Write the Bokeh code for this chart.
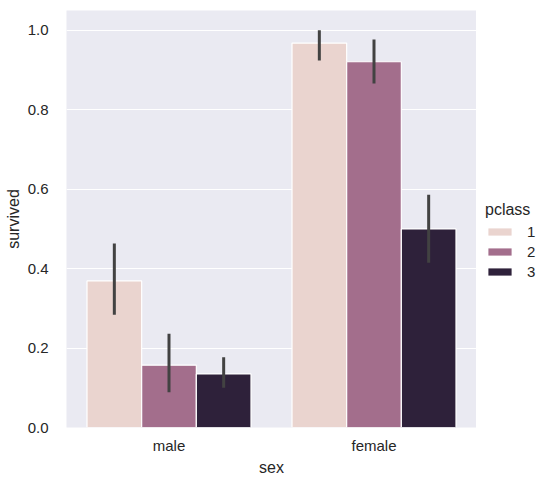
from bokeh.plotting import figure
from bokeh.layouts import row
from bokeh.models import ColumnDataSource, Legend, LegendItem, FixedTicker, Range1d, FactorRange, CustomJSTickFormatter
from bokeh.transform import dodge
from bokeh.embed import file_html
from bokeh.resources import INLINE

sexes = ["male", "female"]
pclasses = ["1", "2", "3"]
survived = {
    "1": [0.369, 0.968],
    "2": [0.157, 0.921],
    "3": [0.135, 0.500],
}
ci_low = {
    "1": [0.284, 0.924],
    "2": [0.089, 0.866],
    "3": [0.100, 0.415],
}
ci_high = {
    "1": [0.463, 1.000],
    "2": [0.236, 0.977],
    "3": [0.177, 0.586],
}
colors = {"1": "#ead4cf", "2": "#a36e8c", "3": "#2e213a"}
y_ticks = [0.0, 0.2, 0.4, 0.6, 0.8, 1.0]

FONT = "Liberation Sans"

p = figure(width=476, height=484, x_range=FactorRange(*sexes, range_padding=0.0),
           y_range=Range1d(0, 1.05), output_backend="svg", toolbar_location=None,
           min_border_left=66, min_border_right=0, min_border_top=10, min_border_bottom=57)
p.background_fill_color = "#eaeaf2"
p.border_fill_color = "white"
p.outline_line_color = None
p.xgrid.grid_line_color = None
p.ygrid.grid_line_color = "white"
p.ygrid.grid_line_width = 1.2
p.yaxis.ticker = FixedTicker(ticks=y_ticks)
p.yaxis.formatter = CustomJSTickFormatter(code="return tick.toFixed(1);")
for ax in (p.xaxis[0], p.yaxis[0]):
    ax.axis_line_color = None
    ax.major_tick_line_color = None
    ax.minor_tick_line_color = None
    ax.major_label_text_font = FONT
    ax.major_label_text_font_size = "15px"
    ax.major_label_text_color = "#262626"
    ax.axis_label_text_font = FONT
    ax.axis_label_text_font_size = "16px"
    ax.axis_label_text_font_style = "normal"
    ax.axis_label_text_color = "#262626"
p.xaxis.axis_label = "sex"
p.yaxis.axis_label = "survived"
p.xaxis.major_label_standoff = 3
p.yaxis.major_label_standoff = 12
p.xaxis.axis_label_standoff = 2
p.yaxis.axis_label_standoff = 3

bw = 0.8 / 3
for i, pc in enumerate(pclasses):
    off = (i - 1) * bw
    src = ColumnDataSource(dict(x=sexes, top=survived[pc], lo=ci_low[pc], hi=ci_high[pc]))
    p.vbar(x=dodge("x", off, range=p.x_range), top="top", bottom=0, width=bw, source=src,
           fill_color=colors[pc], line_color="white", line_width=1.2)
    p.segment(x0=dodge("x", off, range=p.x_range), x1=dodge("x", off, range=p.x_range),
              y0="lo", y1="hi", source=src, line_color="#424242", line_width=3)

# legend panel (its swatch renderers sit outside the visible range)
lf = figure(width=72, height=484, x_range=Range1d(0, 1), y_range=Range1d(0, 1),
            x_axis_type=None, y_axis_type=None, output_backend="svg", toolbar_location=None,
            min_border_left=0, min_border_right=0, min_border_top=0, min_border_bottom=0)
lf.outline_line_color = None
lf.xgrid.visible = False
lf.ygrid.visible = False
items = []
for pc in pclasses:
    r = lf.vbar(x=[5], top=[5], bottom=4, width=0.1, fill_color=colors[pc], line_color=None)
    items.append(LegendItem(label=pc, renderers=[r]))

legend = Legend(items=items, location=(9, 147), title="pclass",
                background_fill_alpha=0, border_line_color=None, margin=0,
                label_text_font=FONT, label_text_font_size="15px", label_text_color="#262626",
                title_text_font=FONT, title_text_font_size="16px", title_text_color="#262626",
                title_text_font_style="normal", title_standoff=4,
                glyph_width=29, glyph_height=9, spacing=3, label_standoff=13, padding=0)
lf.add_layout(legend, "center")

layout = row(p, lf, spacing=0)
open("out.html", "w").write(file_html(layout, INLINE))
